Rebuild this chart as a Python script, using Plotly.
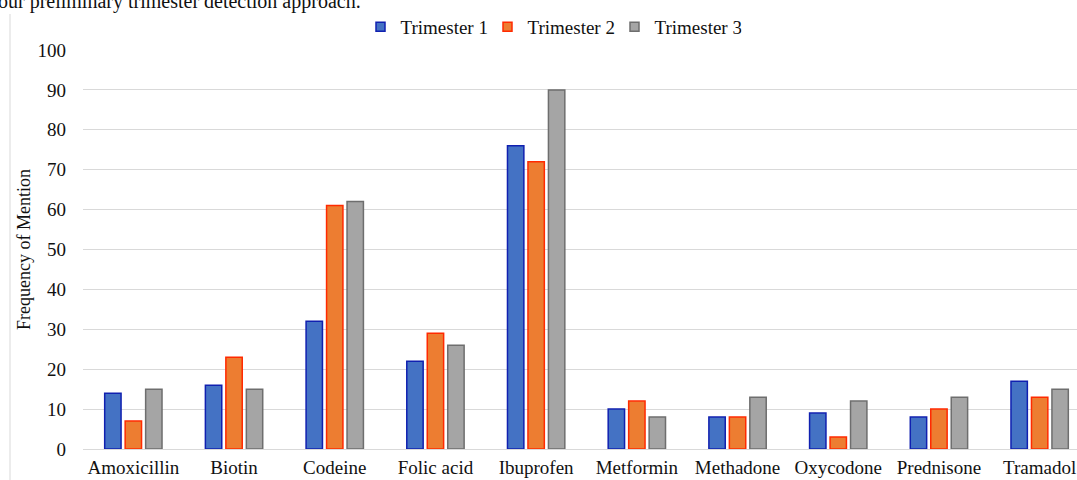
import plotly.graph_objects as go

categories = ["Amoxicillin", "Biotin", "Codeine", "Folic acid", "Ibuprofen",
              "Metformin", "Methadone", "Oxycodone", "Prednisone", "Tramadol"]
trimester1 = [14, 16, 32, 22, 76, 10, 8, 9, 8, 17]
trimester2 = [7, 23, 61, 29, 72, 12, 8, 3, 10, 13]
trimester3 = [15, 15, 62, 26, 90, 8, 13, 12, 13, 15]
y_ticks = list(range(0, 101, 10))

series = [
    ("Trimester 1", trimester1, "#4472C4", "#1020B0"),
    ("Trimester 2", trimester2, "#ED7D31", "#FF2A00"),
    ("Trimester 3", trimester3, "#A5A5A5", "#6E6E6E"),
]

fig = go.Figure()
for name, vals, fill, line in series:
    fig.add_trace(go.Bar(name=name, x=categories, y=vals, showlegend=False,
                         marker=dict(color=fill, line=dict(color=line, width=1.5))))
for name, vals, fill, line in series:
    fig.add_trace(go.Scatter(name=name, x=[None], y=[None], mode="markers",
                             marker=dict(symbol="square", size=9, color=fill,
                                         line=dict(color=line, width=1.5))))

W, H = 1077, 480
ml, mt, mb = 83, 50, 31
pw = W - ml
ph = H - mt - mb
FONT = "Liberation Serif, Times New Roman, serif"

fig.update_layout(
    width=W, height=H,
    margin=dict(l=ml, r=0, t=mt, b=mb, autoexpand=False),
    paper_bgcolor="white", plot_bgcolor="white",
    barmode="group", bargap=0.39, bargroupgap=0.2,
    font=dict(family=FONT, size=19, color="#111111"),
    legend=dict(orientation="h", x=(551 - ml) / pw, xanchor="center",
                y=1 + (mt - 27) / ph, yanchor="middle",
                font=dict(size=19), itemwidth=30, traceorder="normal",
                entrywidth=82, entrywidthmode="pixels"),
    showlegend=True,
)
fig.update_xaxes(range=[-0.5, -0.5 + pw / 100.7], showgrid=False, showline=False,
                 ticks="", tickfont=dict(size=19), ticklabelstandoff=5, automargin=False)
fig.update_yaxes(range=[0, 100], tickvals=y_ticks, showgrid=True, gridcolor="#D9D9D9",
                 gridwidth=1, zeroline=True, zerolinecolor="#D9D9D9", zerolinewidth=1,
                 ticks="", tickfont=dict(size=19), ticklabelstandoff=16, automargin=False,
                 title=dict(text="Frequency of Mention", font=dict(size=18), standoff=2))

fig.add_shape(type="line", xref="paper", yref="paper",
              x0=(10 - ml) / pw, x1=(10 - ml) / pw,
              y0=-mb / ph, y1=1 + (mt - 14) / ph,
              line=dict(color="#D9D9D9", width=1))

fig.add_annotation(text="our preliminary trimester detection approach.",
                   xref="paper", yref="paper", x=(-4 - ml) / pw, xanchor="left",
                   y=1 + (mt - 1) / ph, yanchor="middle", showarrow=False,
                   font=dict(size=20))

fig.write_html("out.html", config={"displayModeBar": False},
               post_script="document.body.style.margin='0';document.body.style.overflow='hidden';")
